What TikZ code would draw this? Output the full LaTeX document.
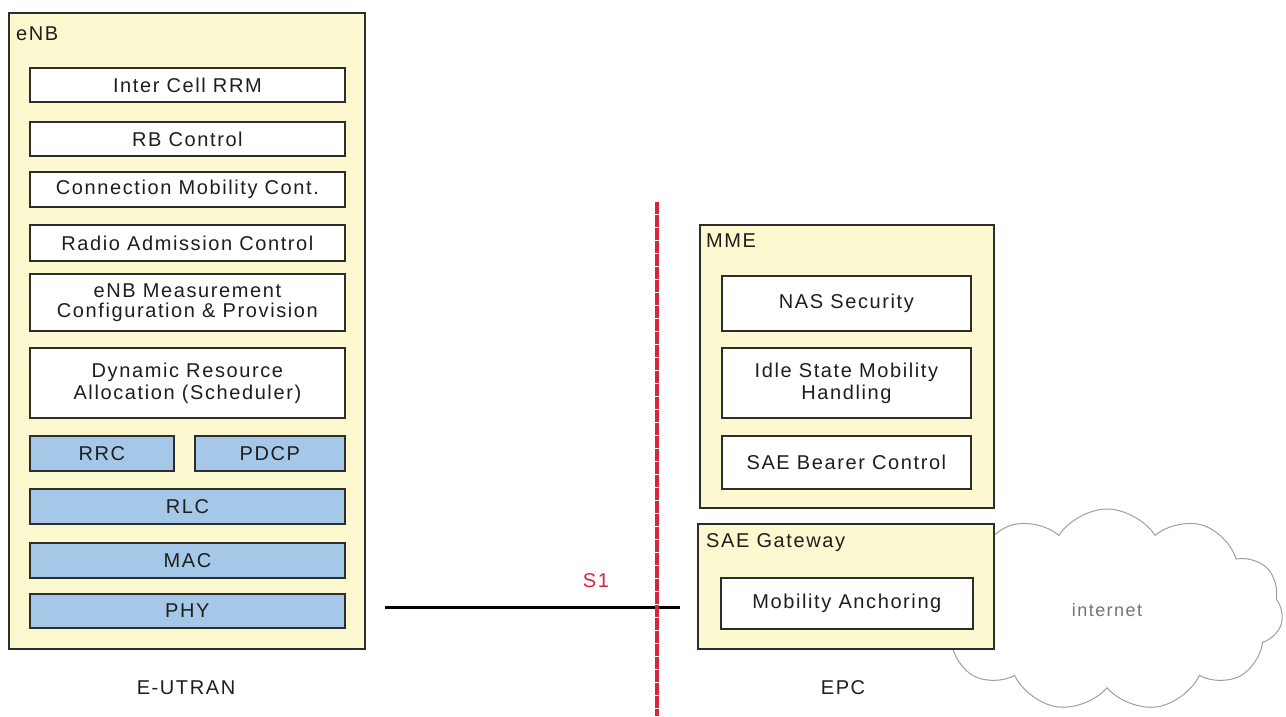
\documentclass[tikz,border=0pt]{standalone}
\usepackage{fontspec}
\setmainfont{Liberation Sans}[LetterSpace=8]
\usetikzlibrary{shapes.symbols}
\definecolor{cream}{RGB}{252,248,207}
\definecolor{layerblue}{RGB}{166,200,232}
\definecolor{edge}{RGB}{45,45,45}
\definecolor{ink}{RGB}{30,30,30}
\definecolor{iface}{RGB}{214,38,62}
\tikzset{
  txt/.style={font=\fontsize{20}{24}\selectfont, text=ink},
  outerbox/.style={draw=edge, line width=1.8pt, fill=cream, rectangle, anchor=north west, inner sep=0pt},
  funcbox/.style={draw=edge, line width=1.8pt, fill=white, rectangle, anchor=north west,
                  align=center, inner sep=2pt, txt},
  layerbox/.style={funcbox, fill=layerblue},
  tag/.style={txt, anchor=west, inner sep=0pt},
  caption/.style={txt, inner sep=0pt},
}
\begin{document}
\begin{tikzpicture}[x=1pt, y=-1pt]
\useasboundingbox (0,0) rectangle (1286,716);

% ---------- E-UTRAN side: eNB ----------
\node[outerbox, minimum width=356pt, minimum height=636pt] (enb) at (8,12) {};
\node[tag] (enblbl) at (16,34) {eNB};

\node[funcbox, minimum width=315pt, minimum height=34pt] (icr)  at (29,67)  {Inter Cell RRM};
\node[funcbox, minimum width=315pt, minimum height=34pt] (rbc)  at (29,121) {RB Control};
\node[funcbox, minimum width=315pt, minimum height=35pt] (cmc)  at (29,171) {Connection Mobility Cont.};
\node[funcbox, minimum width=315pt, minimum height=36pt] (rac)  at (29,224) {Radio Admission Control};
\node[funcbox, minimum width=315pt, minimum height=57pt] (meas) at (29,273) {eNB Measurement\\[-4pt]Configuration \& Provision};
\node[funcbox, minimum width=315pt, minimum height=70pt] (dra)  at (29,347) {Dynamic Resource\\[-2pt]Allocation (Scheduler)};

\node[layerbox, minimum width=144pt, minimum height=35pt] (rrc)  at (29,435)  {RRC};
\node[layerbox, minimum width=150pt, minimum height=35pt] (pdcp) at (194,435) {PDCP};
\node[layerbox, minimum width=315pt, minimum height=35pt] (rlc)  at (29,488)  {RLC};
\node[layerbox, minimum width=315pt, minimum height=35pt] (mac)  at (29,542)  {MAC};
\node[layerbox, minimum width=315pt, minimum height=34pt] (phy)  at (29,593)  {PHY};

\node[caption] (eutran) at (186,688) {E-UTRAN};

% ---------- internet cloud (behind the gateway) ----------
\node[cloud, cloud puffs=11, cloud puff arc=115, draw=gray!75, line width=1pt,
      fill=white, minimum width=352pt, minimum height=202pt, inner sep=0pt,
      font=\fontsize{18}{22}\selectfont, text=gray!90!black] (inet) at (1107,610) {internet};

% ---------- EPC side ----------
\node[outerbox, minimum width=294pt, minimum height=283pt] (mme) at (699,224) {};
\node[tag] (mmelbl) at (706,241) {MME};
\node[funcbox, minimum width=249pt, minimum height=55pt] (nas)  at (721,275) {NAS Security};
\node[funcbox, minimum width=249pt, minimum height=70pt] (idle) at (721,347) {Idle State Mobility\\[-2pt]Handling};
\node[funcbox, minimum width=249pt, minimum height=53pt] (sbc)  at (721,435) {SAE Bearer Control};

\node[outerbox, minimum width=296pt, minimum height=125pt] (gw) at (697,523) {};
\node[tag] (gwlbl) at (706,543) {SAE Gateway};
\node[funcbox, minimum width=252pt, minimum height=51pt] (anch) at (720,577) {Mobility Anchoring};

\node[caption] (epc) at (843,688) {EPC};

% ---------- S1 interface ----------
\coordinate (s1l) at (385,607);
\coordinate (s1r) at (680,607);
\draw[line width=3pt, black] (s1l) -- (s1r);

\coordinate (ifTop) at (657,202);
\coordinate (ifBot) at (657,716);
\draw[iface, line width=4.5pt, dash pattern=on 12pt off 1pt] (ifTop) -- (ifBot);
\node[txt, text=iface, inner sep=0pt] (s1lbl) at (596,581) {S1};
\end{tikzpicture}
\end{document}
